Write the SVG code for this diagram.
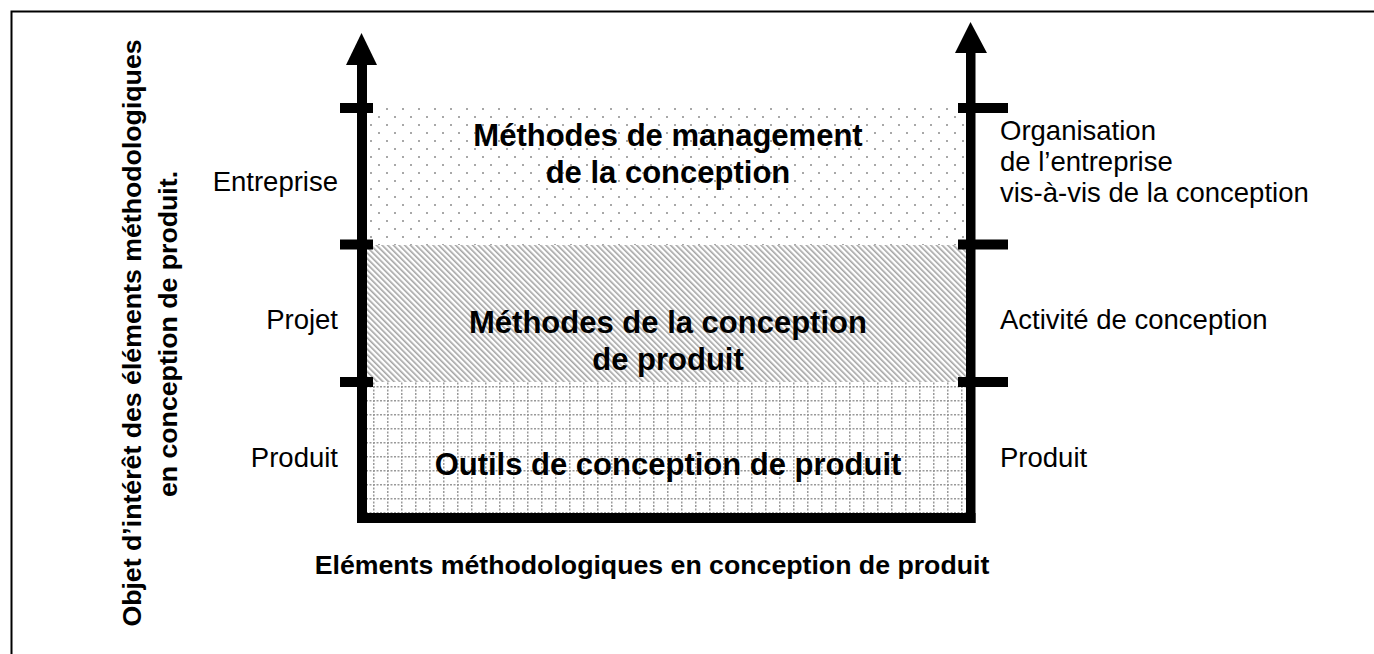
<svg xmlns="http://www.w3.org/2000/svg" width="1374" height="654" viewBox="0 0 1374 654">
  <style>
    text { font-family: "Liberation Sans", Arial, sans-serif; fill: #000; }
    .big { font-size: 31px; font-weight: bold; text-anchor: middle; }
    .lab { font-size: 27.5px; }
    .labL { font-size: 27.5px; text-anchor: end; }
    .axis { font-size: 26.7px; font-weight: bold; text-anchor: middle; }
    .bar { fill: #000; }
  </style>
  <defs>
    <pattern id="dots" x="370" y="108" width="16" height="16" patternUnits="userSpaceOnUse">
      <rect x="0" y="0" width="2" height="2" fill="#a8a8a8"/>
      <rect x="8" y="8" width="2" height="2" fill="#a8a8a8"/>
    </pattern>
    <pattern id="hatch" width="4" height="4" patternUnits="userSpaceOnUse" patternTransform="rotate(-45)">
      <rect x="0" y="0" width="1.6" height="4" fill="#a4a4a4"/>
    </pattern>
    <pattern id="grid" x="373" y="386" width="14" height="14" patternUnits="userSpaceOnUse">
      <line x1="0" y1="0.75" x2="14" y2="0.75" stroke="#9a9a9a" stroke-width="1.5" stroke-dasharray="2 1.5"/>
      <line x1="0.75" y1="0" x2="0.75" y2="14" stroke="#9a9a9a" stroke-width="1.5" stroke-dasharray="2 1.5"/>
    </pattern>
  </defs>

  <rect width="1374" height="654" fill="#fff"/>
  <path d="M11.5 654 V11.5 H1374" fill="none" stroke="#000" stroke-width="2"/>

  <g id="management">
    <rect x="367" y="108" width="599" height="137" fill="url(#dots)"/>
    <text class="big" x="668" y="146">Méthodes de management</text>
    <text class="big" x="668" y="183">de la conception</text>
  </g>
  <g id="methodes">
    <rect x="367" y="245" width="599" height="137" fill="url(#hatch)"/>
    <text class="big" x="668" y="333">Méthodes de la conception</text>
    <text class="big" x="668" y="370">de produit</text>
  </g>
  <g id="outils">
    <rect x="367" y="382" width="599" height="131" fill="#fff"/>
    <rect x="367" y="382" width="599" height="131" fill="url(#grid)"/>
    <text class="big" x="668" y="475">Outils de conception de produit</text>
  </g>

  <g id="connectors">
    <rect class="bar" x="357" y="62" width="10" height="461"/>
    <polygon class="bar" points="361.5,33 377,65 346,65"/>
    <rect class="bar" x="966" y="50" width="9.5" height="473"/>
    <polygon class="bar" points="970.5,22 987,53 955,53"/>
    <rect class="bar" x="357" y="513" width="618.5" height="10"/>
    <rect class="bar" x="340" y="103" width="33" height="10"/>
    <rect class="bar" x="340" y="239.5" width="33" height="10"/>
    <rect class="bar" x="340" y="377" width="33" height="10"/>
    <rect class="bar" x="958" y="103" width="50" height="10"/>
    <rect class="bar" x="958" y="239.5" width="50" height="10"/>
    <rect class="bar" x="958" y="377" width="50" height="10"/>
  </g>

  <g id="left-labels">
    <text class="labL" x="338" y="191">Entreprise</text>
    <text class="labL" x="338" y="329">Projet</text>
    <text class="labL" x="338" y="467">Produit</text>
  </g>
  <g id="right-labels">
    <text class="lab" x="1000" y="140">Organisation</text>
    <text class="lab" x="1000" y="171">de l’entreprise</text>
    <text class="lab" x="1000" y="202">vis-à-vis de la conception</text>
    <text class="lab" x="1000" y="329">Activité de conception</text>
    <text class="lab" x="1000" y="467">Produit</text>
  </g>

  <g id="x-axis-label">
    <text class="axis" x="652" y="574">Eléments méthodologiques en conception de produit</text>
  </g>
  <g id="y-axis-label">
    <text class="axis" transform="translate(141,333) rotate(-90)">Objet d’intérêt des éléments méthodologiques</text>
    <text class="axis" transform="translate(177,334) rotate(-90)">en conception de produit.</text>
  </g>
</svg>
